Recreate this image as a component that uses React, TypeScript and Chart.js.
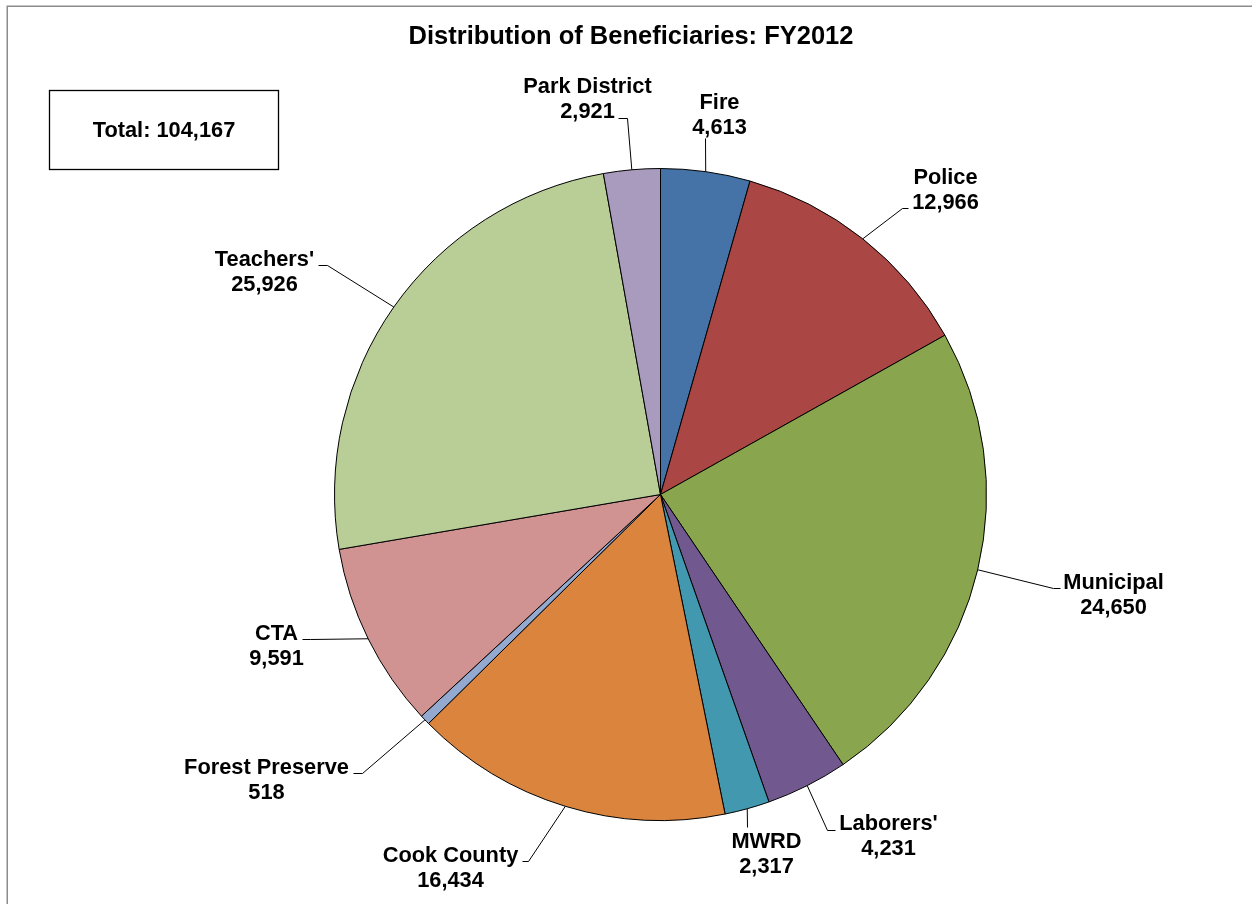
import React, { useEffect, useRef } from "react";
import { Chart, registerables } from "chart.js";

Chart.register(...registerables);

const categories = [
  "Fire",
  "Police",
  "Municipal",
  "Laborers'",
  "MWRD",
  "Cook County",
  "Forest Preserve",
  "CTA",
  "Teachers'",
  "Park District",
];
const beneficiaries = [4613, 12966, 24650, 4231, 2317, 16434, 518, 9591, 25926, 2921];
const sliceColors = [
  "#4572A7",
  "#AA4643",
  "#89A54E",
  "#71588F",
  "#4198AF",
  "#DB843D",
  "#93A9CF",
  "#D19392",
  "#B9CD96",
  "#A99BBD",
];
const chartTitle = "Distribution of Beneficiaries: FY2012";
const totalText = "Total: 104,167";

// Label layout, offsets relative to the pie centre: label centre (lx, ly),
// leader elbow (ex, ey) and leader end at the text (tx, ty).
const labelLayout = [
  { lx: 59, ly: -392, ex: 45, ey: -356, tx: 45, ty: -356 },
  { lx: 285, ly: -317, ex: 242, ey: -286, tx: 248, ty: -286 },
  { lx: 453, ly: 88, ex: 393, ey: 94, tx: 400, ty: 94 },
  { lx: 228, ly: 329, ex: 167, ey: 336, tx: 175, ty: 336 },
  { lx: 106, ly: 347, ex: 87, ey: 333, tx: 87, ty: 333 },
  { lx: -210, ly: 361, ex: -132, ey: 367, tx: -138, ty: 367 },
  { lx: -394, ly: 273, ex: -298, ey: 279, tx: -307, ty: 279 },
  { lx: -384, ly: 139, ex: -350, ey: 145, tx: -358, ty: 145 },
  { lx: -396, ly: -235, ex: -333, ey: -229, tx: -342, ty: -229 },
  { lx: -73, ly: -408, ex: -33, ey: -376, tx: -42, ty: -376 },
];

const FONT = '"Liberation Sans", Arial, Helvetica, sans-serif';

function fmt(n: number) {
  return n.toLocaleString("en-US");
}

const decorPlugin = {
  id: "decor",
  beforeDraw(chart: any) {
    const ctx = chart.ctx;
    ctx.save();
    ctx.fillStyle = "#ffffff";
    ctx.fillRect(0, 0, chart.width, chart.height);
    ctx.strokeStyle = "#8c8c8c";
    ctx.lineWidth = 1.5;
    ctx.strokeRect(7.25, 6.25, 1400, 1100);
    ctx.restore();
  },
  afterDraw(chart: any) {
    const ctx = chart.ctx;
    const meta = chart.getDatasetMeta(0);
    ctx.save();
    // title
    ctx.fillStyle = "#000";
    ctx.font = `bold 25.5px ${FONT}`;
    ctx.textAlign = "center";
    ctx.textBaseline = "middle";
    ctx.fillText(chartTitle, 631, 37);

    // total box
    ctx.strokeStyle = "#000";
    ctx.lineWidth = 1.3;
    ctx.strokeRect(49.5, 90.5, 229, 79);
    ctx.font = `bold 21.8px ${FONT}`;
    ctx.fillText(totalText, 164, 131);

    // labels + leaders
    meta.data.forEach((arc: any, i: number) => {
      const p = arc.getProps(["x", "y", "startAngle", "endAngle", "outerRadius"], true);
      const mid = (p.startAngle + p.endAngle) / 2;
      const r = p.outerRadius;
      const sx = p.x + Math.cos(mid) * r;
      const sy = p.y + Math.sin(mid) * r;
      const L = labelLayout[i];
      ctx.beginPath();
      ctx.strokeStyle = "#000";
      ctx.lineWidth = 1;
      ctx.moveTo(sx, sy);
      ctx.lineTo(p.x + L.ex, p.y + L.ey);
      ctx.lineTo(p.x + L.tx, p.y + L.ty);
      ctx.stroke();

      ctx.fillStyle = "#000";
      ctx.font = `bold 21.8px ${FONT}`;
      ctx.textAlign = "center";
      ctx.textBaseline = "middle";
      ctx.fillText(categories[i], p.x + L.lx, p.y + L.ly);
      ctx.fillText(fmt(beneficiaries[i]), p.x + L.lx, p.y + L.ly + 25);
    });
    ctx.restore();
  },
};

export default function App() {
  const ref = useRef<HTMLCanvasElement | null>(null);
  useEffect(() => {
    if (!ref.current) return;
    const chart = new Chart(ref.current, {
      type: "pie",
      data: {
        labels: categories,
        datasets: [
          {
            data: beneficiaries,
            backgroundColor: sliceColors,
            borderColor: "#000000",
            borderWidth: 1,
            hoverOffset: 0,
          },
        ],
      },
      options: {
        responsive: false,
        animation: false,
        devicePixelRatio: 1,
        layout: { padding: { top: 168, bottom: 83, left: 334, right: 265 } },
        plugins: {
          legend: { display: false },
          tooltip: { enabled: false },
          title: { display: false },
        },
      },
      plugins: [decorPlugin],
    });
    return () => chart.destroy();
  }, []);
  return (
    <div style={{ position: "absolute", left: 0, top: 0, width: 1252, height: 904, background: "#fff" }}>
      <canvas ref={ref} width={1252} height={904} style={{ width: 1252, height: 904, display: "block" }} />
    </div>
  );
}
